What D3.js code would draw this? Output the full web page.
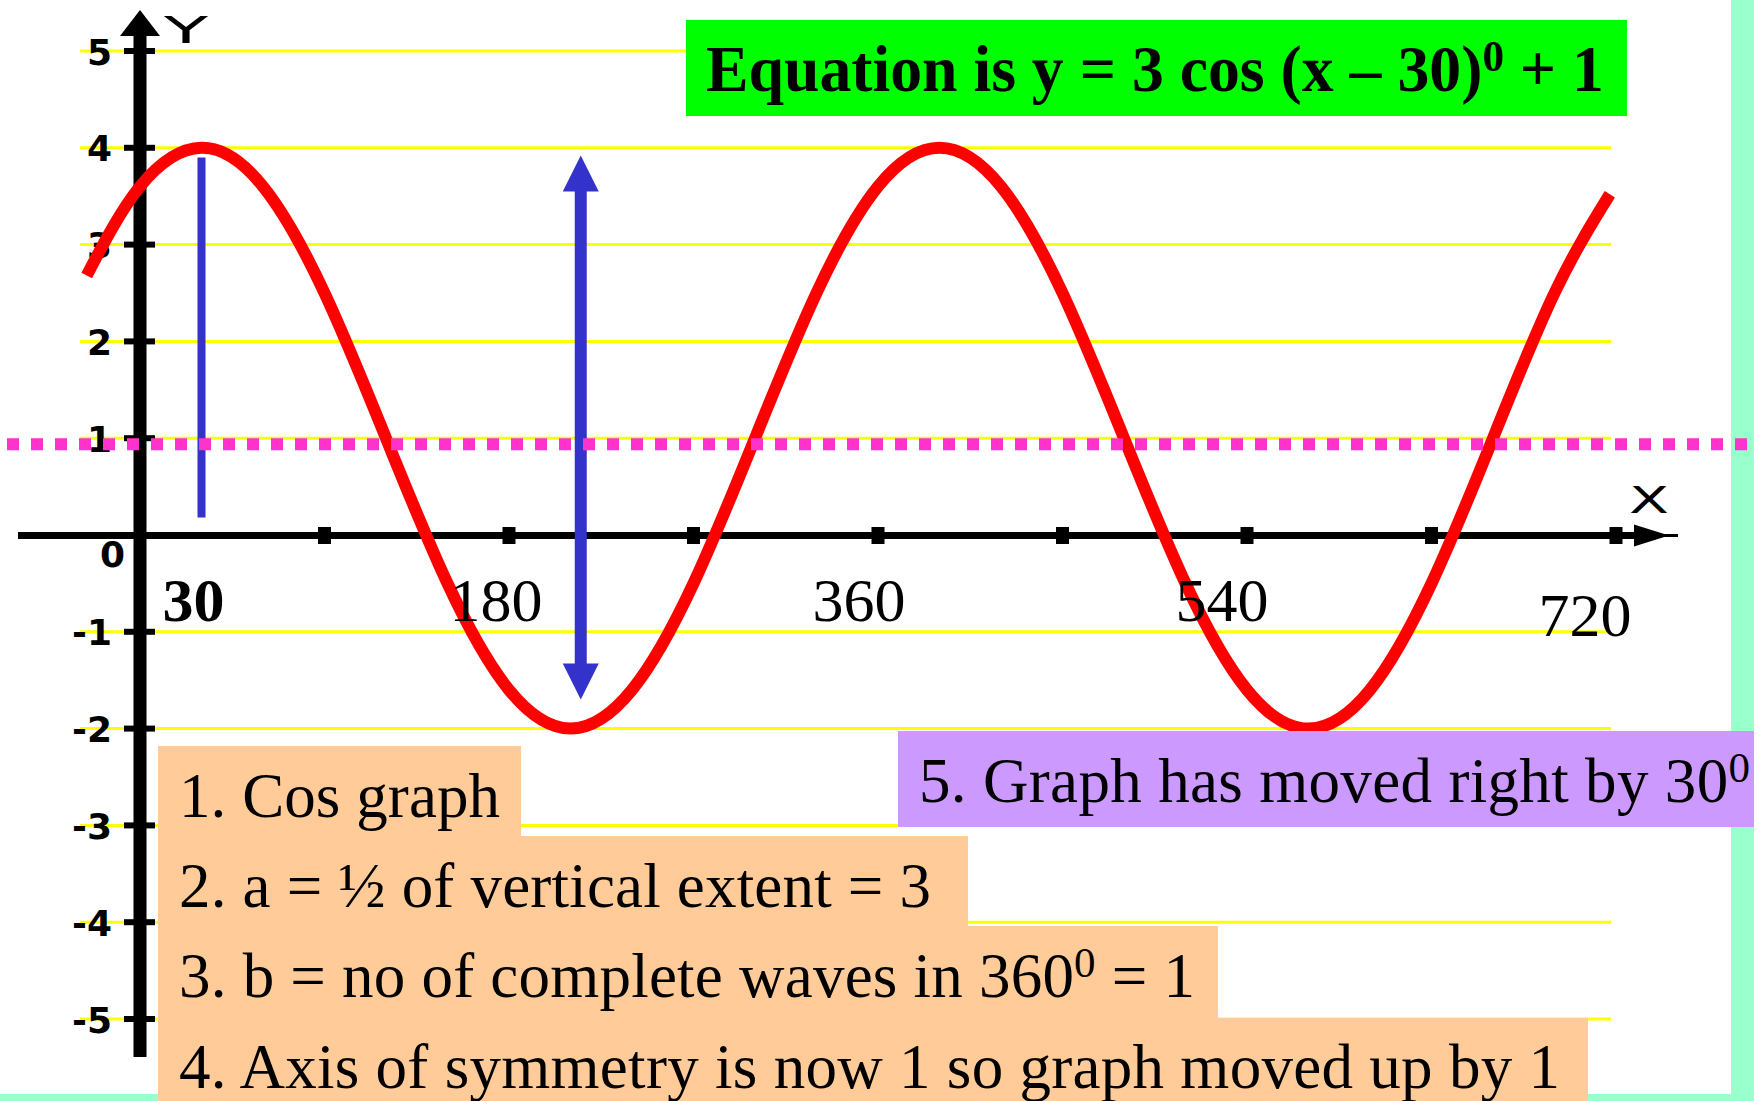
<!DOCTYPE html>
<html>
<head>
<meta charset="utf-8">
<script src="https://cdn.jsdelivr.net/npm/d3@7"></script>
<style>
  html, body { margin: 0; padding: 0; background: #fff; overflow: hidden; }
</style>
</head>
<body>
<div id="chart"></div>
<script>
const curveX = [-26, 0, 30, 60, 90, 120, 150, 180, 210, 240, 270, 300, 330, 360,
                390, 420, 450, 480, 510, 540, 570, 600, 630, 660, 690, 717];
const curveY = [2.68, 3.6, 4, 3.6, 2.5, 1, -0.5, -1.6, -2, -1.6, -0.5, 1, 2.5, 3.6,
                4, 3.6, 2.5, 1, -0.5, -1.6, -2, -1.6, -0.5, 1, 2.5, 3.52];

const xTicks = [90, 180, 270, 360, 450, 540, 630, 720];
const xLabels = [30, 180, 360, 540, 720];
const yTicks = [-5, -4, -3, -2, -1, 1, 2, 3, 4, 5];
const symmetryY = 1;
const markerLine = [30, 3.9, 0.18];   // x, from y, to y
const extentArrow = [215, 3.92, -1.7]; // x, top y, bottom y

const title = "Equation is y = 3 cos (x – 30)^{0} + 1";
const notes = [
  "1. Cos graph",
  "2. a = ½ of vertical extent = 3",
  "3. b = no of complete waves in 360^{0} = 1",
  "4. Axis of symmetry is now 1 so graph moved up by 1"
];
const note5 = "5. Graph has moved right by 30^{0}";

const W = 1754, H = 1101;
const serif = "'Liberation Serif', 'Times New Roman', serif";

const svg = d3.select("#chart")
  .append("svg")
  .attr("width", W)
  .attr("height", H);

const x = d3.scaleLinear().domain([0, 720]).range([140, 1616]);
const y = d3.scaleLinear().domain([-5, 5]).range([1019, 51]);
// the labels under the x axis sit on a slightly tighter spacing
const xl = d3.scaleLinear().domain([0, 720]).range([133, 1585]);

// teal slide frame
svg.append("rect").attr("x", 1731).attr("y", 0).attr("width", 23).attr("height", H).attr("fill", "#99FFCC");
svg.append("rect").attr("x", 0).attr("y", 1094).attr("width", W).attr("height", 7).attr("fill", "#99FFCC");

// yellow grid lines
svg.append("g")
  .selectAll("line")
  .data(yTicks)
  .enter()
  .append("line")
  .attr("x1", 80)
  .attr("x2", 1611)
  .attr("y1", d => y(d))
  .attr("y2", d => y(d))
  .attr("stroke", "#FFFF00")
  .attr("stroke-width", 3);

// y axis
const ax = x(0);
svg.append("line")
  .attr("x1", ax).attr("x2", ax)
  .attr("y1", 30).attr("y2", 1057)
  .attr("stroke", "#000").attr("stroke-width", 13);
svg.append("path")
  .attr("d", `M${ax},10 L${ax + 20},36 L${ax - 20},36 Z`)
  .attr("fill", "#000");
svg.append("g")
  .selectAll("rect")
  .data(yTicks)
  .enter()
  .append("rect")
  .attr("x", ax - 16)
  .attr("y", d => y(d) - 3)
  .attr("width", 31)
  .attr("height", 6)
  .attr("fill", "#000");

const yAxis = svg.append("g")
  .attr("transform", "translate(112,0)")
  .call(d3.axisLeft(y).tickValues(yTicks).tickSize(0).tickPadding(0).tickFormat(d => String(d)));
yAxis.select(".domain").remove();
yAxis.selectAll("text")
  .attr("dy", 13)
  .attr("fill", "#000")
  .style("font-family", "'DejaVu Sans', sans-serif")
  .style("font-weight", "bold")
  .style("font-size", "36px");

// x axis
const ay = y(0) + 0.5;
svg.append("line")
  .attr("x1", 18).attr("x2", 1640)
  .attr("y1", ay).attr("y2", ay)
  .attr("stroke", "#000").attr("stroke-width", 7);
svg.append("line")
  .attr("x1", 1640).attr("x2", 1678)
  .attr("y1", ay).attr("y2", ay)
  .attr("stroke", "#000").attr("stroke-width", 3);
svg.append("path")
  .attr("d", `M1669,${ay} L1634,${ay - 11} L1634,${ay + 11} Z`)
  .attr("fill", "#000");
svg.append("g")
  .selectAll("rect")
  .data(xTicks)
  .enter()
  .append("rect")
  .attr("x", d => x(d) - 6.5)
  .attr("y", ay - 8.5)
  .attr("width", 13)
  .attr("height", 17)
  .attr("fill", "#000");

// axis letters
svg.append("text").text("Y")
  .attr("x", 164).attr("y", 43)
  .attr("textLength", 44).attr("lengthAdjust", "spacingAndGlyphs")
  .style("font-family", "'DejaVu Sans', sans-serif").style("font-size", "37px");
svg.append("text").text("X")
  .attr("x", 1629).attr("y", 513)
  .attr("textLength", 40).attr("lengthAdjust", "spacingAndGlyphs")
  .style("font-family", "'DejaVu Sans', sans-serif").style("font-size", "37px");
svg.append("text").text("0")
  .attr("x", 125).attr("y", 567)
  .attr("text-anchor", "end")
  .style("font-family", "'DejaVu Sans', sans-serif").style("font-weight", "bold").style("font-size", "36px");

// red curve
const pts = curveX.map((d, i) => [d, curveY[i]]);
const line = d3.line()
  .x(d => x(d[0]))
  .y(d => y(d[1]))
  .curve(d3.curveNatural);
svg.append("path")
  .datum(pts)
  .attr("d", line)
  .attr("fill", "none")
  .attr("stroke", "#FF0000")
  .attr("stroke-width", 12);

// blue marker line at the peak
svg.append("line")
  .attr("x1", x(markerLine[0])).attr("x2", x(markerLine[0]))
  .attr("y1", y(markerLine[1])).attr("y2", y(markerLine[2]))
  .attr("stroke", "#3333CC").attr("stroke-width", 8);

// blue double arrow for the vertical extent
const bx = x(extentArrow[0]), bt = y(extentArrow[1]), bb = y(extentArrow[2]);
svg.append("line")
  .attr("x1", bx).attr("x2", bx)
  .attr("y1", bt + 30).attr("y2", bb - 30)
  .attr("stroke", "#3333CC").attr("stroke-width", 12);
svg.append("path")
  .attr("d", `M${bx},${bt} L${bx + 18},${bt + 36} L${bx - 18},${bt + 36} Z M${bx},${bb} L${bx + 18},${bb - 36} L${bx - 18},${bb - 36} Z`)
  .attr("fill", "#3333CC");

// x labels
svg.append("g")
  .selectAll("text")
  .data(xLabels)
  .enter()
  .append("text")
  .text(d => d)
  .attr("x", d => xl(d))
  .attr("y", (d, i) => i === xLabels.length - 1 ? 636 : 621)
  .attr("text-anchor", "middle")
  .style("font-family", serif)
  .style("font-weight", (d, i) => i === 0 ? "bold" : "normal")
  .style("font-size", "62px");

// pink dotted axis of symmetry (drawn on top)
svg.append("line")
  .attr("x1", 7).attr("x2", 1754)
  .attr("y1", y(symmetryY) + 6).attr("y2", y(symmetryY) + 6)
  .attr("stroke", "#FF33CC")
  .attr("stroke-width", 12)
  .attr("stroke-dasharray", "12,12");

// text with ^{..} superscripts
function richText(sel, str, size, supSize, shift) {
  const parts = str.split(/\^\{(.*?)\}/);
  parts.forEach((p, i) => {
    if (!p) return;
    const sup = i % 2 === 1;
    const prevSup = i > 0 && (i - 1) % 2 === 1;
    sel.append("tspan")
      .text(p)
      .attr("dy", sup ? -shift : (prevSup ? shift : 0))
      .style("font-size", (sup ? supSize : size) + "px");
  });
}

// green equation box
svg.append("rect").attr("x", 686).attr("y", 20).attr("width", 941).attr("height", 96).attr("fill", "#00FF00");
const tt = svg.append("text")
  .attr("x", 706).attr("y", 91)
  .attr("textLength", 898).attr("lengthAdjust", "spacingAndGlyphs")
  .style("font-family", serif).style("font-weight", "bold");
richText(tt, title, 65, 44, 20);

// peach notes
const boxRight = [521, 968, 1218, 1588];
const boxTop = [746, 836, 926, 1018, 1101];
const baselines = [817, 907, 997, 1088];
const noteWidths = [321, 752, 1016, 1381];
notes.forEach((n, i) => {
  svg.append("rect")
    .attr("x", 158).attr("y", boxTop[i])
    .attr("width", boxRight[i] - 158).attr("height", boxTop[i + 1] - boxTop[i])
    .attr("fill", "#FFCC99");
});
notes.forEach((n, i) => {
  const t = svg.append("text")
    .attr("x", 179).attr("y", baselines[i])
    .attr("textLength", noteWidths[i]).attr("lengthAdjust", "spacing")
    .style("font-family", serif);
  richText(t, n, 63, 43, 20);
});

// purple note
svg.append("rect").attr("x", 898).attr("y", 731).attr("width", W - 898).attr("height", 96).attr("fill", "#CC99FF");
const t5 = svg.append("text")
  .attr("x", 919).attr("y", 802)
  .attr("textLength", 831).attr("lengthAdjust", "spacing")
  .style("font-family", serif);
richText(t5, note5, 63, 43, 20);
</script>
</body>
</html>
